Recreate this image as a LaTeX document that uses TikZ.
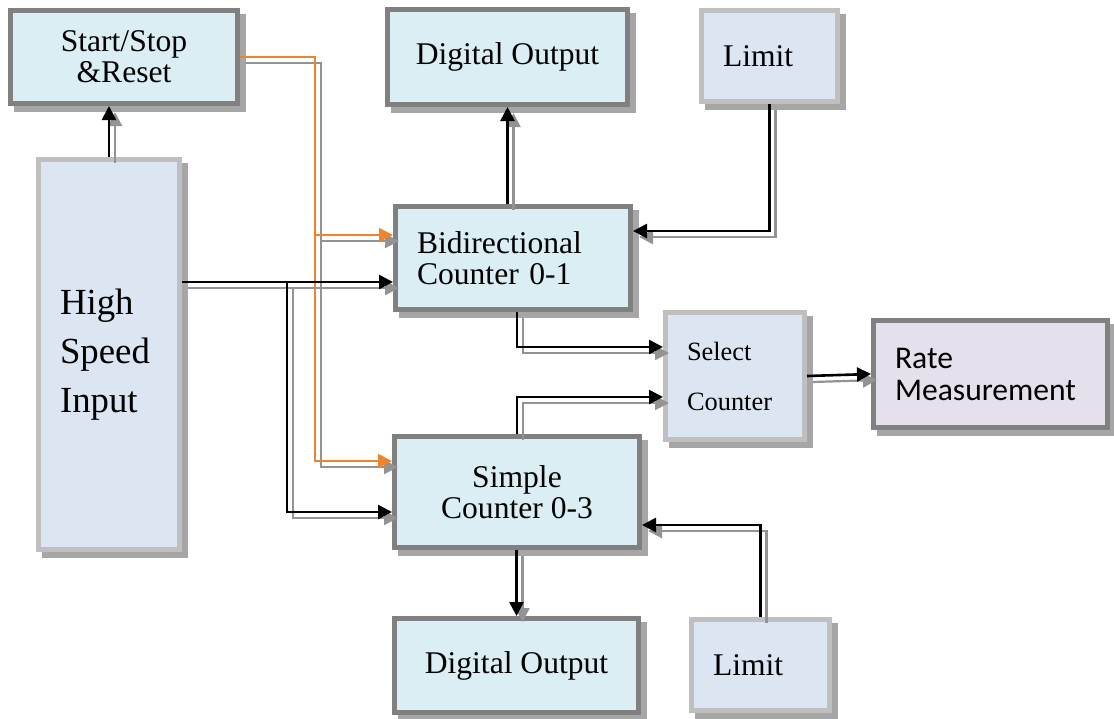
\documentclass[tikz,border=0pt]{standalone}
\usepackage{fontspec}
\setmainfont{Liberation Serif}
\newfontfamily\ratefont{Carlito}
\usetikzlibrary{arrows.meta, shadows}

\definecolor{cellcyan}{HTML}{DAEEF3}
\definecolor{cellblue}{HTML}{DCE6F2}
\definecolor{celllilac}{HTML}{E5E0EC}
\definecolor{wireorange}{HTML}{F0842E}

% a connector with its grey copy behind it
\newcommand{\wire}[2][wire]{\draw[wshade] #2; \draw[#1] #2;}

\begin{document}
\begin{tikzpicture}[
            x=0.5pt, y=-0.5pt,
            darkbox/.style={draw=gray, line width=2.5pt, fill=cellcyan, inner sep=0pt,
                    copy shadow={shadow xshift=2.8pt, shadow yshift=-2.8pt, draw=gray!70, fill=gray!70},
                    font=\fontsize{15.8}{15.5}\selectfont, align=center},
            lightbox/.style={darkbox, draw=gray!50, fill=cellblue},
            leftpad/.style={align=left, inner xsep=10.75pt, text width=#1},
            wire/.style={line width=1.3pt, -{Triangle[length=7pt, width=7pt]}},
            owire/.style={wire, draw=wireorange, line width=1pt},
            wshade/.style={draw=gray!85, line width=1.1pt, -{Triangle[length=7pt, width=7pt]},
                    transform canvas={shift={(3pt,-3pt)}}}
        ]

        \useasboundingbox (0,0) rectangle (1114,718);

        % blocks
        \node[darkbox, minimum width=113.5pt, minimum height=46.5pt] (ss) at (124,57) {Start/Stop\\\&Reset};
        \node[lightbox, leftpad=49pt, minimum width=70.5pt, minimum height=195pt,
            font=\fontsize{18.4}{24.5}\selectfont] (hsi) at (109,354.5) {High\\Speed\\Input};
        \node[darkbox, minimum width=120pt, minimum height=47.5pt] (dot) at (507.5,57) {Digital Output};
        \node[lightbox, leftpad=46.5pt, minimum width=68pt, minimum height=45.5pt] (limt) at (769.5,56) {Limit};
        \node[darkbox, leftpad=96pt, minimum width=117.5pt, minimum height=51.5pt] (bidi) at (513,258) {Bidirectional\\Counter 0-1};
        \node[lightbox, leftpad=48pt, minimum width=69.5pt, minimum height=63.5pt,
            font=\fontsize{13.2}{25}\selectfont] (sel) at (735,376) {Select\\Counter};
        \node[darkbox, leftpad=95.5pt, fill=celllilac, minimum width=117pt, minimum height=53.5pt,
            font=\ratefont\fontsize{15.8}{16}\selectfont] (rate) at (990.5,374) {Rate\\Measurement};
        \node[darkbox, minimum width=122.5pt, minimum height=55.5pt] (simple) at (517,492) {Simple\\Counter 0-3};
        \node[darkbox, minimum width=122pt, minimum height=47pt] (dob) at (516.5,665.5) {Digital Output};
        \node[lightbox, leftpad=47.5pt, minimum width=69pt, minimum height=45.5pt] (limb) at (760.5,665) {Limit};

        % bend points
        \coordinate (ojoin) at (315,235);
        \coordinate (obot) at (315,461);
        \coordinate (hjoin) at (287,282);
        \coordinate (hbot) at (287,512);
        \coordinate (lbend) at (769,231);
        \coordinate (bsel) at (517,347);
        \coordinate (ssel) at (517,397);
        \coordinate (lbot) at (760,525);

        % start/stop and reset lines
        \wire{(hsi.north) -- (hsi.north |- ss.south)}
        \wire[owire]{(ss.east) -| (obot) -- (obot -| simple.west)}
        \wire[owire]{(ojoin) -- (ojoin -| bidi.west)}

        % high speed input to the counters
        \wire{(hjoin -| hsi.east) -- (hjoin -| bidi.west)}
        \wire{(hjoin) -- (hbot) -- (hbot -| simple.west)}

        % bidirectional counter
        \wire{(dot.south |- bidi.north) -- (dot.south)}
        \wire{(limt.south) |- (bidi.east |- lbend)}
        \wire{(bsel |- bidi.south) |- (sel.west |- bsel)}

        % simple counter
        \wire{(ssel |- simple.north) |- (sel.west |- ssel)}
        \wire{(dob.north |- simple.south) -- (dob.north)}
        \wire{(limb.north) |- (simple.east |- lbot)}

        \wire{(sel.east) -- (rate.west)}

    \end{tikzpicture}
\end{document}
